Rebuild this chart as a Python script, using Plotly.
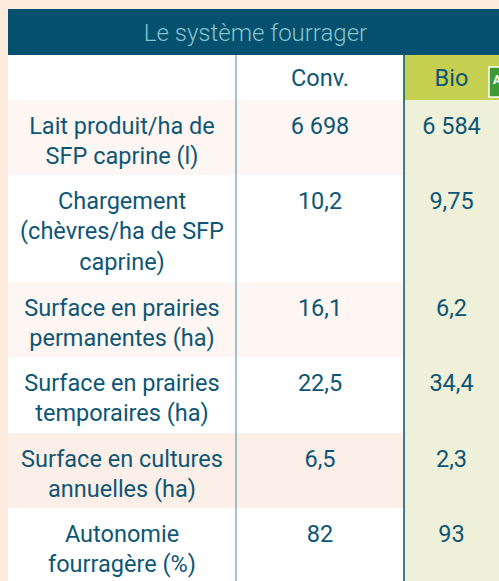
import plotly.graph_objects as go

# ---- data ----
title = "Le système fourrager"
col_headers = ["", "Conv.", "Bio"]
labels = [
    "Lait produit/ha de<br>SFP caprine (l)",
    "Chargement<br>(chèvres/ha de SFP<br>caprine)",
    "Surface en prairies<br>permanentes (ha)",
    "Surface en prairies<br>temporaires (ha)",
    "Surface en cultures<br>annuelles (ha)",
    "Autonomie<br>fourragère (%)",
]
conv = ["6 698", "10,2", "16,1", "22,5", "6,5", "82"]
bio = ["6 584", "9,75", "6,2", "34,4", "2,3", "93"]

# ---- layout constants (pixel units) ----
W, H = 499, 581
LEFT, TOP = 8, 9
TITLE_H = 46
HEAD_H = 45
COLW = [228, 168, 95]
ROW_H = [75, 107, 75, 76, 75, 74]
TEXT_OFF = 16
FONT = "Roboto"
FS = 23.5
TEXT = "#0E5675"
DARK = "#03506F"
PEACH = "#FDEBDE"
ROW_BG = ["#FEF6F2", "#FFFFFF", "#FEF6F2", "#FFFFFF", "#FCEFE7", "#FFFFFF"]
BIO_BG = "#EEF0D9"
BIO_HEAD = "#C5D050"

# derived geometry
col_edges = [LEFT]
for w in COLW:
    col_edges.append(col_edges[-1] + w)
col_cent = [(a + b) / 2 for a, b in zip(col_edges[:-1], col_edges[1:])]
head_top = TOP + TITLE_H
body_top = head_top + HEAD_H
row_tops = [body_top]
for h in ROW_H:
    row_tops.append(row_tops[-1] + h)

fig = go.Figure()
shapes = []

# title bar
shapes.append(dict(type="rect", x0=LEFT, x1=W + 5, y0=TOP, y1=head_top,
                   fillcolor=DARK, line=dict(width=0), layer="below"))
# header row
head_fill = ["#FFFFFF", "#FFFFFF", BIO_HEAD]
for c in range(3):
    shapes.append(dict(type="rect", x0=col_edges[c], x1=col_edges[c + 1],
                       y0=head_top, y1=body_top, fillcolor=head_fill[c],
                       line=dict(width=0), layer="below"))
# body rows
for r in range(len(labels)):
    fills = [ROW_BG[r], ROW_BG[r], BIO_BG]
    for c in range(3):
        shapes.append(dict(type="rect", x0=col_edges[c], x1=col_edges[c + 1],
                           y0=row_tops[r], y1=row_tops[r + 1], fillcolor=fills[c],
                           line=dict(width=0), layer="below"))
# vertical separators
shapes.append(dict(type="line", x0=col_edges[1], x1=col_edges[1], y0=head_top, y1=H + 5,
                   line=dict(color="#4C86A2", width=1)))
shapes.append(dict(type="line", x0=col_edges[2], x1=col_edges[2], y0=head_top, y1=H + 5,
                   line=dict(color=DARK, width=1.5)))
# partial organic (AB) logo at right edge of the Bio header
shapes.append(dict(type="rect", x0=489, x1=510, y0=67, y1=97,
                   fillcolor="#3E9A35", line=dict(color="#FFFFFF", width=1.5)))

for s in shapes:
    s.update(xref="x", yref="y")
fig.update_layout(shapes=shapes)

# title text
fig.add_trace(go.Scatter(x=[(LEFT + W) / 2 + 2], y=[TOP + TITLE_H / 2 + 3], mode="text",
                         text=[title], textposition="middle center", hoverinfo="skip",
                         textfont=dict(family=FONT, size=24, color="#8CC2CC", weight=300)))
# header texts
fig.add_trace(go.Scatter(x=col_cent, y=[head_top + HEAD_H / 2 + 3] * 3, mode="text",
                         text=col_headers, textposition="middle center", hoverinfo="skip",
                         textfont=dict(family=FONT, size=FS, color=TEXT)))
# body texts
ys = [t + TEXT_OFF for t in row_tops[:-1]]
for c, vals in enumerate([labels, conv, bio]):
    fig.add_trace(go.Scatter(x=[col_cent[c]] * len(vals), y=ys, mode="text",
                             text=vals, textposition="bottom center", hoverinfo="skip",
                             textfont=dict(family=FONT, size=FS, color=TEXT)))

fig.add_annotation(x=491, y=71, xanchor="left", yanchor="top", text="<b>A</b>",
                   showarrow=False, font=dict(family=FONT, size=12, color="#FFFFFF"))

fig.update_xaxes(range=[0, W], visible=False, fixedrange=True)
fig.update_yaxes(range=[H, 0], visible=False, fixedrange=True)
fig.update_layout(width=W, height=H, margin=dict(l=0, r=0, t=0, b=0),
                  paper_bgcolor=PEACH, plot_bgcolor=PEACH, showlegend=False)

fig.write_html("out.html", config={"displayModeBar": False},
               post_script="document.body.style.margin='0px';")
